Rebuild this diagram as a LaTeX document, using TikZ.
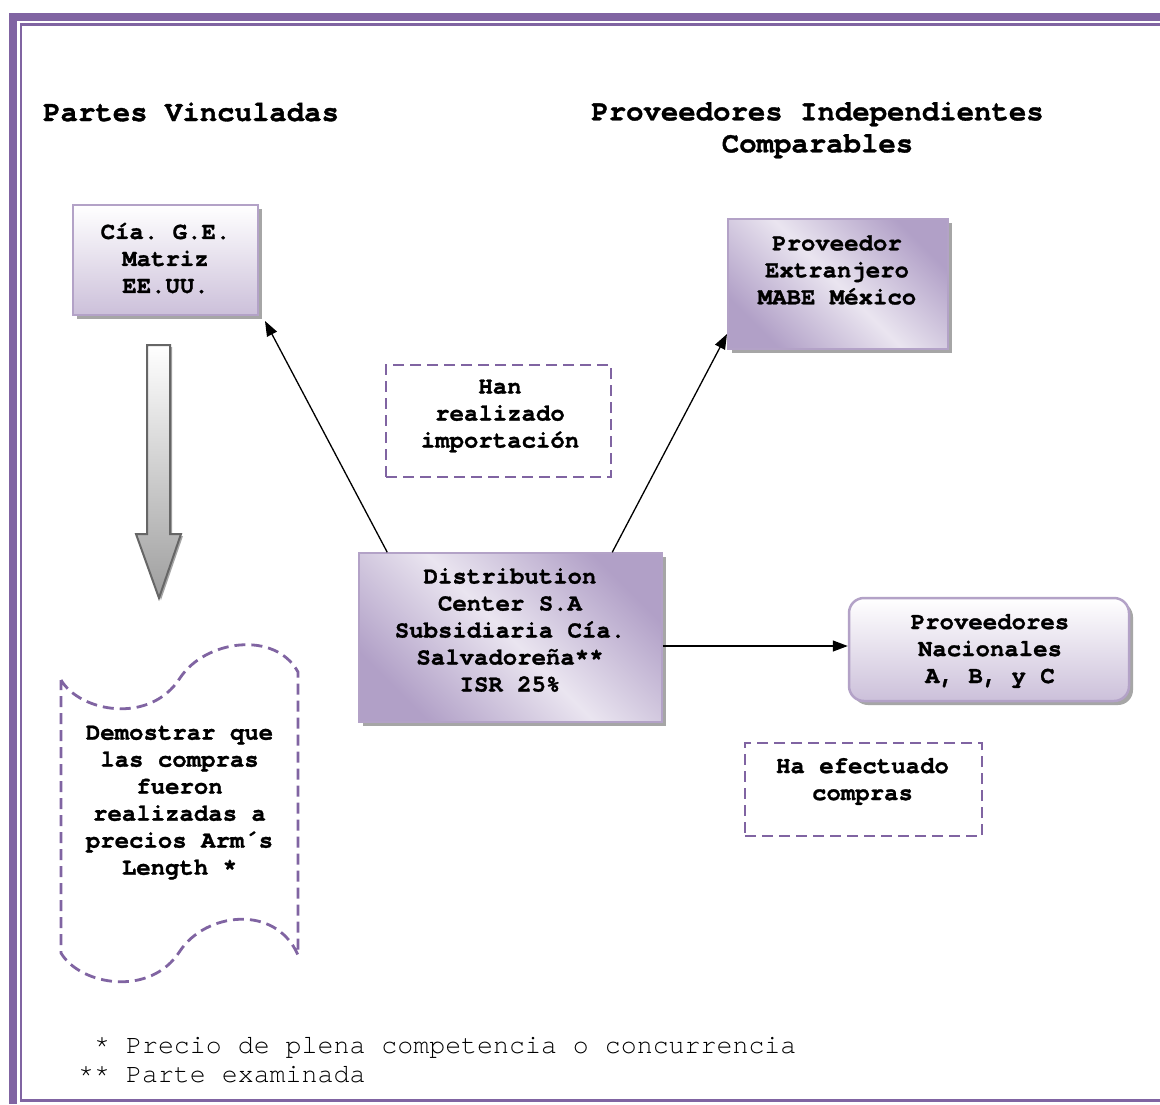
\documentclass[tikz,border=0pt]{standalone}
\usepackage{fontspec}
\setmonofont[BoldFeatures={FakeBold=1.2}]{TeX Gyre Cursor}
\usetikzlibrary{arrows.meta,calc,shadows}
\definecolor{frame}{HTML}{8064A2}
\definecolor{lilac}{HTML}{CCC0DA}
\definecolor{lilacdk}{HTML}{B1A0C7}
\definecolor{lilaclt}{HTML}{EAE5F0}
\definecolor{edge}{HTML}{B3A2C7}
\definecolor{shade}{HTML}{A6A6A6}

\begin{document}
\begin{tikzpicture}[x=1pt,y=-1pt,
  boxtext/.style={font=\ttfamily\bfseries\fontsize{24}{27}\selectfont, align=center, inner sep=0pt},
  boxshadow/.style={drop shadow={shadow xshift=4pt, shadow yshift=-4pt, fill=shade, opacity=1}},
  panel/.style={draw=edge, line width=2.5pt, top color=white, bottom color=lilac, boxshadow, inner sep=0pt},
  glossy/.style={draw=edge, line width=1.5pt, top color=lilacdk, bottom color=lilacdk, middle color=lilaclt, shading angle=-45, boxshadow, inner sep=0pt},
  note/.style={draw=frame, line width=2.8pt, dash pattern=on 11pt off 6pt, inner sep=0pt},
  link/.style={draw=black, line width=1.3pt, -{Triangle[length=15pt,width=11pt]}},
  heading/.style={font=\ttfamily\bfseries\fontsize{29}{32}\selectfont, inner sep=0pt},
  foot/.style={font=\ttfamily\fontsize{26.6}{29}\selectfont, inner sep=0pt},
]
\useasboundingbox (0,0) rectangle (1160,1104);
\fill[white] (0,0) rectangle (1160,1104);

% page frame
\fill[frame] (9,13) rectangle (1160,21);
\fill[frame] (9,13) rectangle (17,1104);
\draw[frame, line width=2.5pt] (1160,24.5) -- (21,24.5) -- (21,1100.5) -- (1160,1100.5);

% headings
\node[heading, anchor=base west] (pv) at (43,121) {Partes Vinculadas};
\node[heading, align=center] (pic) at (817.5,130) {Proveedores Independientes\\Comparables};

% companies
\node[panel, minimum width=185pt, minimum height=110pt] (cia) at (165.5,260) {};
\node[boxtext] (ciaT) at (165.5,258) {Cía. G.E.\\Matriz\\EE.UU.};

\node[glossy, minimum width=220pt, minimum height=130pt] (ext) at (838,284) {};
\node[boxtext] (extT) at (837,270) {Proveedor\\Extranjero\\MABE México};

\node[glossy, minimum width=303pt, minimum height=169pt] (dist) at (510.5,637.5) {};
\node[boxtext] (distT) at (510,630) {Distribution\\Center S.A\\Subsidiaria Cía.\\Salvadoreña**\\ISR 25\%};

\node[panel, rounded corners=15pt, minimum width=280pt, minimum height=103pt] (nac) at (989,649.5) {};
\node[boxtext] (nacT) at (990,651) {Proveedores\\Nacionales\\A, B, y C};

% remarks
\node[note, minimum width=225pt, minimum height=112pt] (han) at (498.5,421) {};
\node[boxtext] (hanT) at (500,416) {Han\\realizado\\importación};

\node[note, minimum width=237pt, minimum height=93pt] (ha) at (863.5,789.5) {};
\node[boxtext] (haT) at (862.5,781.5) {Ha efectuado\\compras};

% punched-tape note
\draw[note] (61,680) .. controls (80,712) and (150,725) .. (180,678)
  .. controls (205,640) and (275,630) .. (298,672) -- (298,955)
  .. controls (275,903) and (205,913) .. (180,951)
  .. controls (150,998) and (80,985) .. (61,953) -- cycle;
\node[boxtext] (demo) at (179.5,802.5) {Demostrar que\\las compras\\fueron\\realizadas a\\precios Arm´s\\Length *};

% block arrow
\path[draw=black!60, line width=2pt, top color=white, bottom color=black!38,
  drop shadow={shadow xshift=2pt, shadow yshift=-2pt, fill=shade, opacity=1}]
  (147,345) -- (170,345) -- (170,534) -- (181,534) -- (159,598) -- (136,534) -- (147,534) -- cycle;

% connectors
\coordinate (t1) at (265,321);
\coordinate (t2) at (727,334);
\coordinate (h1) at ($(dist.east)+(0,8.5)$);
\draw[link] ($(dist.north west)+(29,0)$) -- (t1);
\draw[link] ($(dist.north west)+(254,0)$) -- (t2);
\draw[link] (h1) -- (h1 -| nac.west);

% footnotes
\node[foot, anchor=base west] (f1) at (78,1053) {\phantom{*}* Precio de plena competencia o concurrencia};
\node[foot, anchor=base west] (f2) at (78,1082) {** Parte examinada};
\end{tikzpicture}
\end{document}
